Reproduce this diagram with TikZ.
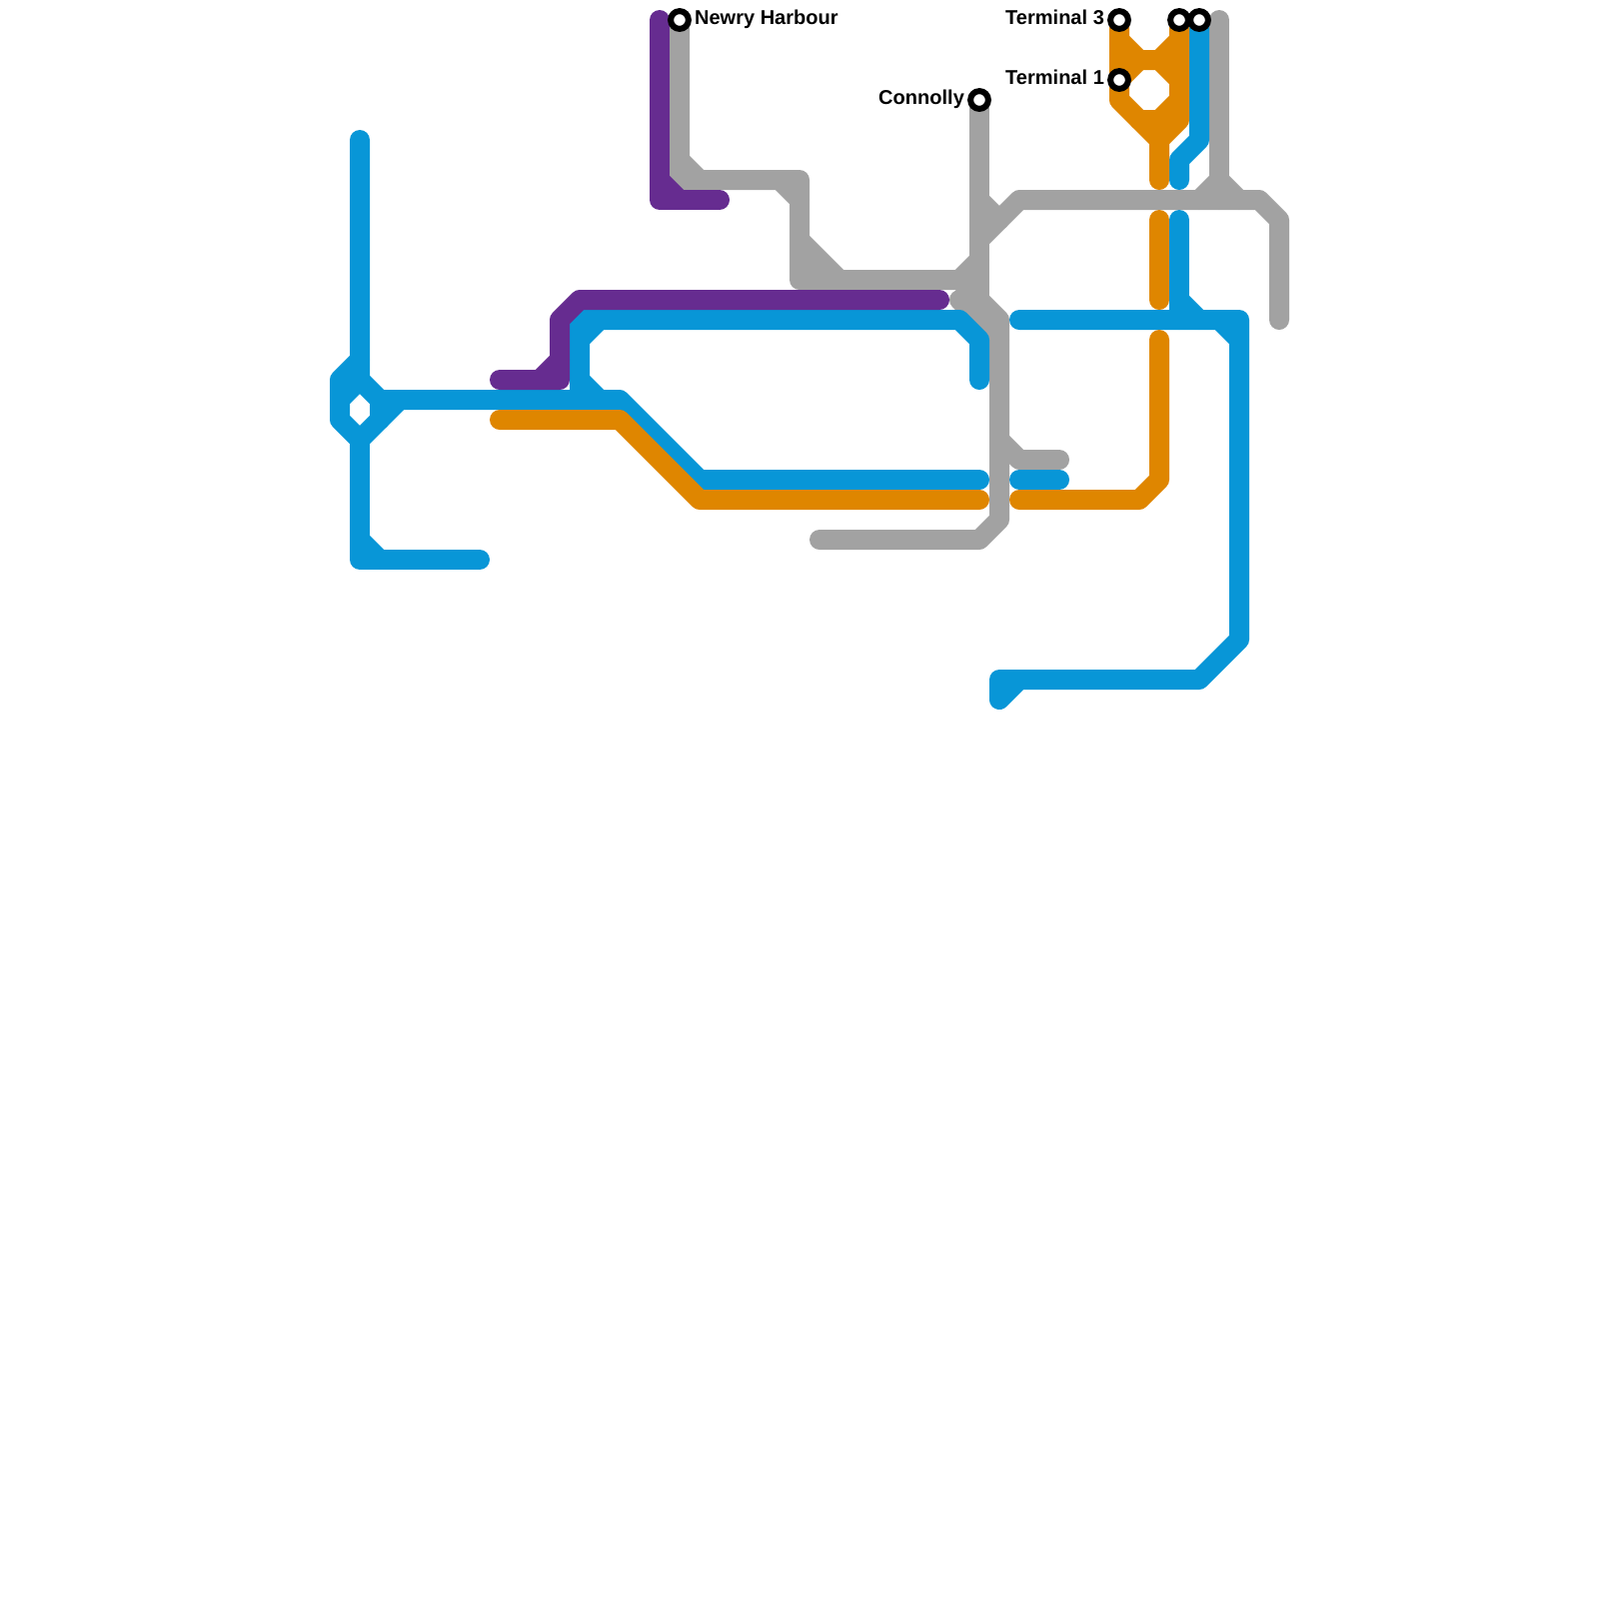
\documentclass[tikz,border=0pt]{standalone}
\usepackage{fontspec}
\setmainfont{Liberation Sans}
\usepackage{xcolor}
\usetikzlibrary{positioning}
\definecolor{metroblue}{HTML}{0896D7}
\definecolor{metroorange}{HTML}{DF8600}
\definecolor{metropurple}{HTML}{662C90}
\definecolor{metrogrey}{HTML}{A2A2A2}

\begin{document}
\begin{tikzpicture}[x=0.1mm,y=-0.1mm]
            \tikzset{
                track/.style={
                    line width=2mm,
                    line cap=round,
                    line join=round
                }
            }
            \tikzset{
                stop/.style={
                    circle,
                    draw=black,
                    fill=white,
                    line width=0.6mm,
                    minimum size=1.78mm,
                    inner sep=0pt
                }
            }
            \tikzset{
                stoplabel/.style={
                    font=\fontsize{5.7}{6.5}\selectfont\bfseries,
                    inner sep=0pt,
                    text height=1.5mm,
                    text depth=0.6mm
                }
            }
            \useasboundingbox (0,0) rectangle (1600,1600);

            % grey
            \draw[track,metrogrey] (680,20) -- (680,180) -- (800,180) -- (800,280) -- (960,280) -- (1000,320) -- (1000,520) -- (980,540) -- (820,540);
            \draw[track,metrogrey] (680,160) -- (700,180);
            \draw[track,metrogrey] (780,180) -- (800,200);
            \draw[track,metrogrey] (800,240) -- (840,280);
            \draw[track,metrogrey] (800,260) -- (820,280);
            \draw[track,metrogrey] (960,280) -- (980,260);
            \draw[track,metrogrey] (980,100) -- (980,300);
            \draw[track,metrogrey] (960,300) -- (1000,340);
            \draw[track,metrogrey] (980,200) -- (1000,220);
            \draw[track,metrogrey] (980,240) -- (1020,200) -- (1260,200) -- (1280,220) -- (1280,320);
            \draw[track,metrogrey] (1220,20) -- (1220,200);
            \draw[track,metrogrey] (1200,200) -- (1220,180) -- (1240,200);
            \draw[track,metrogrey] (1000,440) -- (1020,460) -- (1060,460);

            % blue
            \draw[track,metroblue] (360,140) -- (360,380) -- (340,400);
            \draw[track,metroblue] (360,360) -- (340,380) -- (340,420) -- (360,440) -- (400,400);
            \draw[track,metroblue] (360,380) -- (380,400) -- (380,420);
            \draw[track,metroblue] (360,440) -- (360,560) -- (480,560);
            \draw[track,metroblue] (360,540) -- (380,560);
            \draw[track,metroblue] (380,400) -- (620,400) -- (700,480) -- (980,480);
            \draw[track,metroblue] (580,400) -- (580,320) -- (960,320) -- (980,340) -- (980,380);
            \draw[track,metroblue] (580,340) -- (600,320);
            \draw[track,metroblue] (580,380) -- (600,400);
            \draw[track,metroblue] (1020,480) -- (1060,480);
            \draw[track,metroblue] (1020,320) -- (1240,320) -- (1240,640) -- (1200,680) -- (1000,680) -- (1000,700) -- (1020,680);
            \draw[track,metroblue] (1220,320) -- (1240,340);
            \draw[track,metroblue] (1180,220) -- (1180,320);
            \draw[track,metroblue] (1180,300) -- (1200,320);
            \draw[track,metroblue] (1200,20) -- (1200,140) -- (1180,160) -- (1180,180);

            % orange
            \draw[track,metroorange] (500,420) -- (620,420) -- (700,500) -- (980,500);
            \draw[track,metroorange] (1020,500) -- (1140,500) -- (1160,480) -- (1160,340);
            \draw[track,metroorange] (1160,220) -- (1160,300);
            \draw[track,metroorange] (1120,20) -- (1120,100) -- (1160,140) -- (1160,180);
            \draw[track,metroorange] (1180,20) -- (1180,120) -- (1160,140);
            \draw[track,metroorange] (1120,40) -- (1140,60) -- (1160,60) -- (1180,40);
            \draw[track,metroorange] (1120,80) -- (1140,60);
            \draw[track,metroorange] (1160,60) -- (1180,80);
            \draw[track,metroorange] (1140,120) -- (1160,120) -- (1180,100);

            % purple
            \draw[track,metropurple] (660,20) -- (660,200) -- (720,200);
            \draw[track,metropurple] (660,180) -- (680,200);
            \draw[track,metropurple] (500,380) -- (560,380) -- (560,320) -- (580,300) -- (940,300);
            \draw[track,metropurple] (540,380) -- (560,360);

            % stops
            \node[stop] (newry) at (680,20) {};
            \node[stop] (connolly) at (980,100) {};
            \node[stop] (termthree) at (1120,20) {};
            \node[stop] (termone) at (1120,80) {};
            \node[stop] (northa) at (1180,20) {};
            \node[stop] (northb) at (1200,20) {};

            \node[stoplabel,right=0.25mm of newry] (newrylabel) {Newry Harbour};
            \node[stoplabel,left=0.25mm of connolly] (connollylabel) {Connolly};
            \node[stoplabel,left=0.25mm of termthree] (termthreelabel) {Terminal 3};
            \node[stoplabel,left=0.25mm of termone] (termonelabel) {Terminal 1};
        \end{tikzpicture}
\end{document}
